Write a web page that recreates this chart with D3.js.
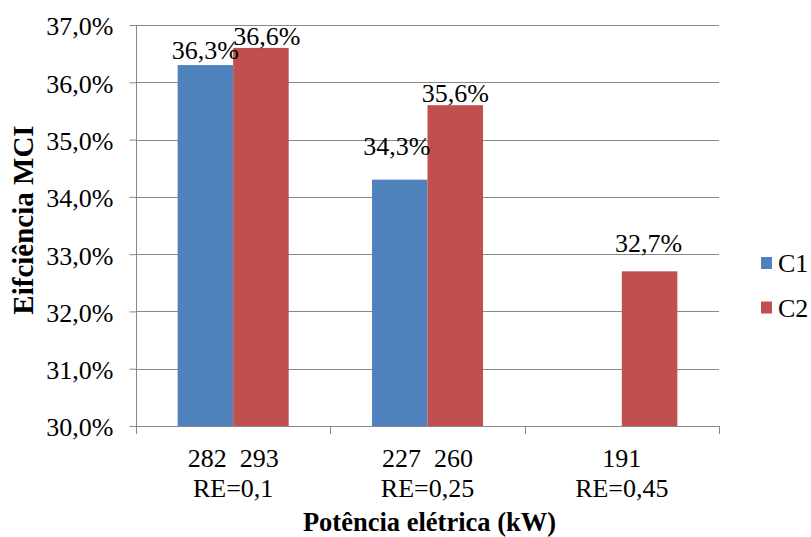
<!DOCTYPE html>
<html>
<head>
<meta charset="utf-8">
<script src="https://cdn.jsdelivr.net/npm/d3@7"></script>
<style>
  html, body { margin: 0; padding: 0; background: #fff; }
  svg { display: block; }
</style>
</head>
<body>
<svg id="chart" width="811" height="537" font-family="Liberation Serif"></svg>
<script>
// Engine efficiency per excess-air ratio (RE), for two configurations
const categories = ["RE=0,1", "RE=0,25", "RE=0,45"];
const powerLabels = ["282  293", "227  260", "191"];   // electric power (kW) of each bar
const seriesNames = ["C1", "C2"];
const c1Values = [36.3, 34.3, null];
const c2Values = [36.6, 35.6, 32.7];
const yTickValues = [30, 31, 32, 33, 34, 35, 36, 37];

// hand-placed label nudges (px): lift above bar top, horizontal shift
const c1LabelLift = [15, 34, 0];
const c1LabelShift = [0, -3, 0];
const c2LabelLift = [12, 12, 28];
const c2LabelShift = [6, 0, -1];

const FONT = "Liberation Serif";
const FS = 26;
const colors = { C1: "#4F81BD", C2: "#C0504D" };
const gridColor = "#898989";

const svg = d3.select("#chart");
const plot = { left: 136, right: 719, top: 25, bottom: 426 };

const x = d3.scaleBand().domain(categories).range([plot.left, plot.right]).padding(0);
const xs = d3.scaleBand().domain(seriesNames).range([0, x.bandwidth()])
  .paddingInner(0).paddingOuter(0.75);
const y = d3.scaleLinear().domain([30, 37]).range([plot.bottom, plot.top]);

const fmtPct = v => d3.format(".1f")(v).replace(".", ",") + "%";

// horizontal gridlines
svg.append("g")
  .selectAll("line")
  .data(yTickValues.filter(v => v !== 30))
  .join("line")
  .attr("x1", plot.left).attr("x2", plot.right)
  .attr("y1", d => Math.round(y(d)) + 0.5).attr("y2", d => Math.round(y(d)) + 0.5)
  .attr("stroke", gridColor).attr("stroke-width", 1);

// bars
const rows = [];
categories.forEach((c, i) => {
  rows.push({ cat: c, series: "C1", value: c1Values[i], lift: c1LabelLift[i], shift: c1LabelShift[i] });
  rows.push({ cat: c, series: "C2", value: c2Values[i], lift: c2LabelLift[i], shift: c2LabelShift[i] });
});
const bars = rows.filter(r => r.value != null);

svg.append("g")
  .selectAll("rect")
  .data(bars)
  .join("rect")
  .attr("x", d => x(d.cat) + xs(d.series))
  .attr("width", xs.bandwidth())
  .attr("y", d => y(d.value))
  .attr("height", d => y(30) - y(d.value))
  .attr("fill", d => colors[d.series]);

// y axis
const yAxis = d3.axisLeft(y).tickValues(yTickValues).tickFormat(fmtPct).tickSize(7).tickPadding(16);
const gy = svg.append("g").attr("transform", `translate(${plot.left + 0.5},0)`).call(yAxis)
  .attr("font-family", FONT).attr("font-size", FS);
gy.select(".domain").attr("stroke", gridColor).attr("d", `M0,${plot.top}V${plot.bottom}`);
gy.selectAll(".tick line").attr("stroke", gridColor);
gy.selectAll(".tick text").attr("fill", "#000").attr("dy", "0.38em");

// x axis: baseline and category boundary ticks
const gx = svg.append("g");
gx.append("line")
  .attr("x1", plot.left).attr("x2", plot.right)
  .attr("y1", plot.bottom + 0.5).attr("y2", plot.bottom + 0.5)
  .attr("stroke", gridColor);
const bounds = categories.map(c => x(c)).concat([x(categories[categories.length - 1]) + x.bandwidth()]);
gx.selectAll("line.tk")
  .data(bounds)
  .join("line")
  .attr("class", "tk")
  .attr("x1", d => Math.round(d) + 0.5).attr("x2", d => Math.round(d) + 0.5)
  .attr("y1", plot.bottom).attr("y2", plot.bottom + 8)
  .attr("stroke", gridColor);

// category labels: power values on the first line, RE on the second
const catLabels = svg.append("g").attr("font-family", FONT).attr("font-size", FS).attr("text-anchor", "middle");
categories.forEach((c, i) => {
  const cx = x(c) + x.bandwidth() / 2;
  catLabels.append("text").attr("x", cx).attr("y", 467).style("white-space", "pre").text(powerLabels[i]);
  catLabels.append("text").attr("x", cx).attr("y", 497).text(c);
});

// value labels
svg.append("g").attr("font-family", FONT).attr("font-size", FS)
  .selectAll("text")
  .data(bars)
  .join("text")
  .attr("x", d => x(d.cat) + xs(d.series) + xs.bandwidth() / 2 + d.shift)
  .attr("y", d => y(d.value) - d.lift)
  .attr("dy", "0.35em")
  .attr("text-anchor", "middle")
  .text(d => fmtPct(d.value));

// axis titles
svg.append("text")
  .attr("transform", "translate(33,220) rotate(-90)")
  .attr("text-anchor", "middle")
  .attr("font-family", FONT).attr("font-size", 29).attr("font-weight", "bold")
  .text("Eifciência MCI");
svg.append("text")
  .attr("x", (plot.left + plot.right) / 2 + 2).attr("y", 531)
  .attr("text-anchor", "middle")
  .attr("font-family", FONT).attr("font-size", 26.5).attr("font-weight", "bold")
  .text("Potência elétrica (kW)");

// legend
const legend = svg.append("g").attr("font-family", FONT).attr("font-size", FS);
seriesNames.forEach((s, i) => {
  const cy = 263 + i * 44.5;
  legend.append("rect").attr("x", 761).attr("y", cy - 6).attr("width", 11).attr("height", 12).attr("fill", colors[s]);
  legend.append("text").attr("x", 778).attr("y", cy).attr("dy", "0.35em").text(s);
});
</script>
</body>
</html>
